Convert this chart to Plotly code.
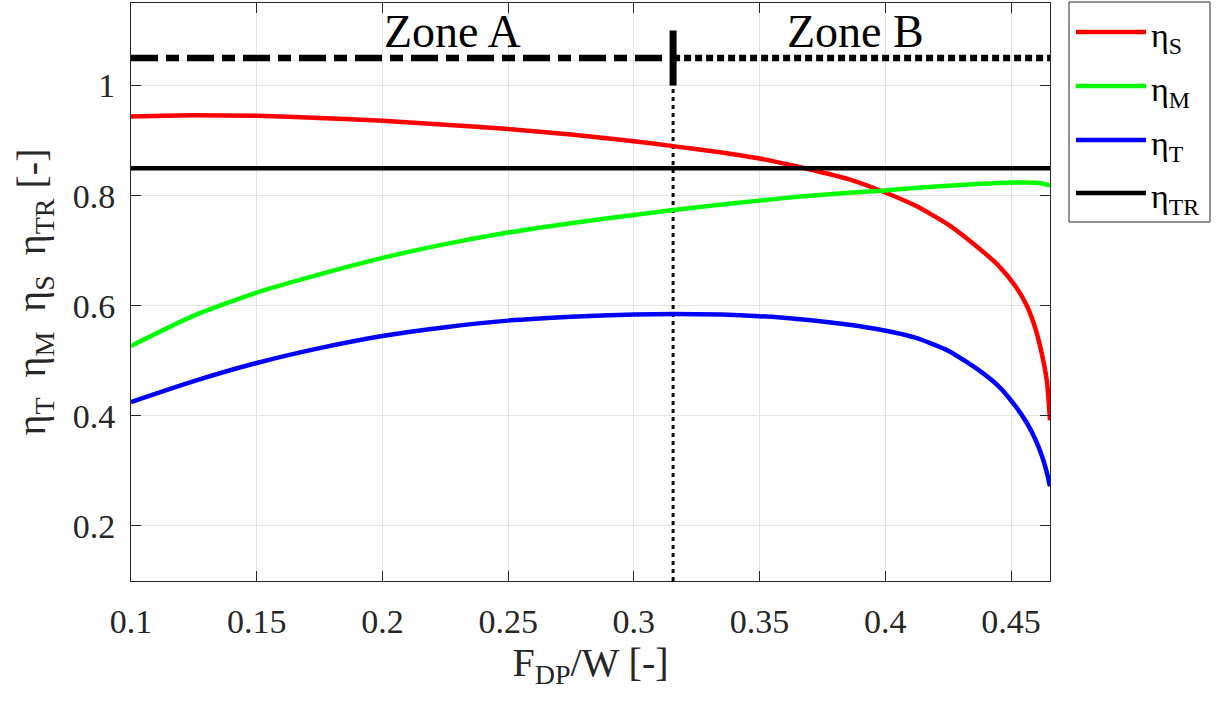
import plotly.graph_objects as go

# ---------------- data ----------------
x_vals = [0.100, 0.125, 0.150, 0.175, 0.200, 0.225, 0.250, 0.275, 0.300, 0.3156,
          0.335, 0.350, 0.365, 0.3856, 0.3987, 0.4119, 0.4252, 0.4384, 0.4450, 0.4517,
          0.4563, 0.4596, 0.4623, 0.4643, 0.4655]

eta_S = [0.944, 0.946, 0.945, 0.941, 0.936, 0.929, 0.921, 0.911, 0.899, 0.890,
         0.8785, 0.8675, 0.853, 0.8295, 0.808, 0.782, 0.747, 0.700, 0.673, 0.636,
         0.600, 0.560, 0.512, 0.462, 0.392]

eta_M = [0.527, 0.582, 0.624, 0.657, 0.687, 0.712, 0.733, 0.750, 0.765, 0.774,
         0.784, 0.791, 0.798, 0.8055, 0.809, 0.814, 0.818, 0.8215, 0.823, 0.824,
         0.824, 0.8235, 0.822, 0.820, 0.818]

eta_T = [0.425, 0.463, 0.496, 0.523, 0.545, 0.561, 0.573, 0.580, 0.584, 0.585,
         0.584, 0.581, 0.576, 0.5655, 0.556, 0.542, 0.518, 0.479, 0.454, 0.418,
         0.387, 0.358, 0.327, 0.296, 0.272]

eta_TR_x = [0.100, 0.4655]
eta_TR = [0.85, 0.85]

zone_boundary = 0.3156
zone_level = 1.05
zone_marker = [1.0, 1.10]
zone_a_x = [0.100, zone_boundary]
zone_b_x = [zone_boundary, 0.4655]
zone_labels = ["Zone A", "Zone B"]
zone_label_x = [0.2277, 0.388]
zone_label_y = 1.098

x_ticks = [0.1, 0.15, 0.2, 0.25, 0.3, 0.35, 0.4, 0.45]
x_ticktext = ["0.1", "0.15", "0.2", "0.25", "0.3", "0.35", "0.4", "0.45"]
y_ticks = [0.2, 0.4, 0.6, 0.8, 1.0]
y_ticktext = ["0.2", "0.4", "0.6", "0.8", "1"]

series_names = ["η<sub>S</sub>", "η<sub>M</sub>", "η<sub>T</sub>", "η<sub>TR</sub>"]
series_colors = ["#FF0000", "#00FF00", "#0000FF", "#000000"]

FONT = "Liberation Serif"
AX = "#262626"

fig = go.Figure()

# zone lines
fig.add_trace(go.Scatter(x=zone_a_x, y=[zone_level] * 2, mode="lines",
                         line=dict(color="black", width=6.5, dash="27px,8px,13px,8px"),
                         showlegend=False, hoverinfo="skip"))
fig.add_trace(go.Scatter(x=zone_b_x, y=[zone_level] * 2, mode="lines",
                         line=dict(color="black", width=6.5, dash="7px,4px"),
                         showlegend=False, hoverinfo="skip"))
fig.add_trace(go.Scatter(x=[zone_boundary] * 2, y=zone_marker, mode="lines",
                         line=dict(color="black", width=7),
                         showlegend=False, hoverinfo="skip"))
fig.add_trace(go.Scatter(x=[zone_boundary] * 2, y=[0.1, zone_marker[0]], mode="lines",
                         line=dict(color="black", width=3, dash="4px,4px"),
                         showlegend=False, hoverinfo="skip"))

# efficiency curves
for yv, name, col in zip([eta_S, eta_M, eta_T], series_names[:3], series_colors[:3]):
    fig.add_trace(go.Scatter(x=x_vals, y=yv, mode="lines", name=name,
                             line=dict(color=col, width=4.5, shape="spline", smoothing=0.6),
                             showlegend=False))
fig.add_trace(go.Scatter(x=eta_TR_x, y=eta_TR, mode="lines", name=series_names[3],
                         line=dict(color=series_colors[3], width=4.5), showlegend=False))

# zone labels
for lab, lx in zip(zone_labels, zone_label_x):
    fig.add_annotation(x=lx, y=zone_label_y, text=lab, showarrow=False,
                       font=dict(family=FONT, size=46, color="black"),
                       xanchor="center", yanchor="middle")

# custom legend (MATLAB-style box)
px = lambda p: (p - 131) / 919.0
py = lambda p: (581 - p) / 578.0
fig.add_shape(type="rect", xref="paper", yref="paper",
              x0=px(1069), x1=px(1210), y0=py(222), y1=py(2),
              line=dict(color=AX, width=1), fillcolor="white")
entry_y = [32, 86, 140, 193]
for name, col, ey in zip(series_names, series_colors, entry_y):
    fig.add_shape(type="line", xref="paper", yref="paper",
                  x0=px(1076), x1=px(1146), y0=py(ey), y1=py(ey),
                  line=dict(color=col, width=4.5))
    fig.add_annotation(xref="paper", yref="paper", x=px(1149), y=py(ey + 6),
                       text=name, showarrow=False, xanchor="left", yanchor="middle",
                       font=dict(family=FONT, size=34, color="black"))

axis_common = dict(
    showline=True, linecolor=AX, linewidth=1, mirror="ticks",
    ticks="inside", ticklen=10, tickwidth=1, tickcolor=AX,
    showgrid=True, gridcolor="#e3e3e3", gridwidth=1, zeroline=False,
    tickfont=dict(family=FONT, size=34, color=AX),
)

fig.update_layout(
    width=1222, height=702,
    font=dict(family=FONT, size=34, color=AX),
    margin=dict(l=131, r=172, t=3, b=121, autoexpand=False),
    paper_bgcolor="white", plot_bgcolor="white",
    showlegend=False,
    xaxis=dict(range=[0.1, 0.4655], tickvals=x_ticks, ticktext=x_ticktext,
               ticklabelstandoff=10,
               title=dict(text="F<sub>DP</sub>/W [-]", standoff=4,
                          font=dict(family=FONT, size=40, color=AX)),
               **axis_common),
    yaxis=dict(range=[0.1, 1.15], tickvals=y_ticks, ticktext=y_ticktext,
               ticklabelstandoff=8,
               title=dict(text="η<sub>T</sub>\u00a0\u00a0η<sub>M</sub>\u00a0\u00a0η<sub>S</sub>\u00a0\u00a0η<sub>TR</sub> [-]",
                          standoff=14, font=dict(family=FONT, size=40, color=AX)),
               **axis_common),
)

fig.write_html("out.html")
